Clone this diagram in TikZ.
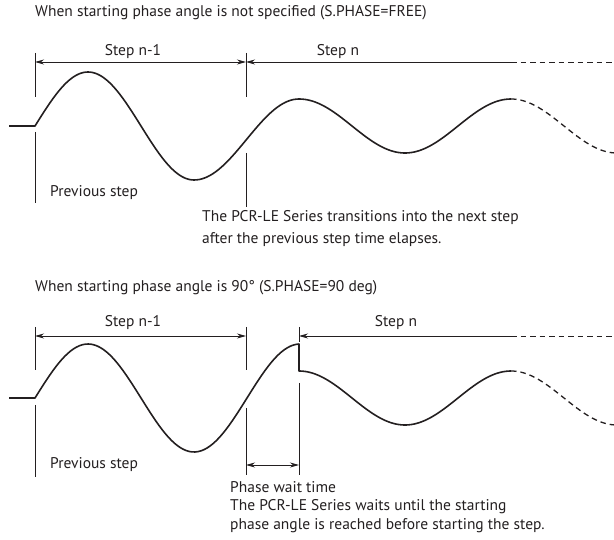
\documentclass[tikz,border=0pt]{standalone}
\usepackage{fontspec}
\setmainfont{PT Sans}
\usetikzlibrary{arrows.meta}
\definecolor{ink}{HTML}{231F20}

\begin{document}
\begin{tikzpicture}[
 x=1pt,y=-1pt,
 every node/.style={font=\fontsize{15.5}{19}\selectfont,text=ink,inner sep=0pt},
 wlabel/.style={anchor=west},
 wnote/.style={anchor=north west,align=left},
 wtick/.style={draw=ink,line width=0.8pt},
 wdim/.style={wtick,{Stealth[length=9pt,width=5pt]}-{Stealth[length=9pt,width=5pt]}},
 wleft/.style={wtick,{Stealth[length=9pt,width=5pt]}-},
 wdimdash/.style={wtick,dash pattern=on 5.5pt off 4pt},
 wwave/.style={draw=ink,line width=1.6pt,line join=round},
 wwavedash/.style={draw=ink,line width=1.3pt,dash pattern=on 5.5pt off 4pt}]
\useasboundingbox (0,0) rectangle (614,540);
% not specified
\node[wlabel] (title1) at (35,13) {When starting phase angle is not specified (S.PHASE=FREE)};
\coordinate (a1) at (35,62);
\coordinate (a2) at (246,62);
\coordinate (a3) at (511,62);
\coordinate (a4) at (614,62);
\draw[wtick] (35,53) -- (35,97) (246,53) -- (246,97);
\draw[wtick] (35,132) -- (35,203) (246,153) -- (246,207);
\draw[wdim] (a1) -- (a2);
\draw[wleft] (a2) -- (a3);
\draw[wdimdash] (a3) -- (a4);
\node (prev1) at (133,52) {Step n-1};
\node (next1) at (338,52) {Step n};
\draw[wwave] (9,126) -- (35,126)
 -- plot[domain=35:194,samples=70] (\x,{126-54*sin((\x-35)/212*360)})
 -- plot[domain=194:299,samples=40] (\x,{139.5+40.5*cos((\x-194)/105*180)})
 -- plot[domain=299:511,samples=80] (\x,{126-27*cos((\x-299)/212*360)});
\draw[wwavedash] plot[domain=511:614,samples=40] (\x,{126-27*cos((\x-299)/212*360)});
\node[wlabel] (old1) at (50,193) {Previous step};
\node[wnote,font=\fontsize{15.5}{22}\selectfont] (note1) at (202,210)
 {The PCR-LE Series transitions into the next step\\after the previous step time elapses.};
% 90 deg
\node[wlabel] (title2) at (35,288) {When starting phase angle is 90\textdegree{} (S.PHASE=90 deg)};
\coordinate (b1) at (35,336);
\coordinate (b2) at (246,336);
\coordinate (b3) at (299,336);
\coordinate (b4) at (511,336);
\coordinate (b5) at (614,336);
\coordinate (c1) at (246,465);
\coordinate (c2) at (299,465);
\draw[wtick] (35,327) -- (35,370) (246,327) -- (246,370) (299,327) -- (299,342);
\draw[wtick] (35,405) -- (35,477) (246,408) -- (246,475) (299,383) -- (299,475);
\draw[wdim] (b1) -- (b2);
\draw[wleft] (b3) -- (b4);
\draw[wdimdash] (b4) -- (b5);
\draw[wdim] (c1) -- (c2);
\node (prev2) at (133,323) {Step n-1};
\node (next2) at (396,323) {Step n};
\draw[wwave] (9,398) -- (35,398)
 -- plot[domain=35:299,samples=90] (\x,{398-54*sin((\x-35)/212*360)})
 -- (299,371)
 -- plot[domain=299:511,samples=80] (\x,{398-27*cos((\x-299)/212*360)});
\draw[wwavedash] plot[domain=511:614,samples=40] (\x,{398-27*cos((\x-299)/212*360)});
\node[wlabel] (old2) at (50,465) {Previous step};
\node[wnote,font=\fontsize{15.5}{18.5}\selectfont] (note2) at (230,481)
 {Phase wait time\\The PCR-LE Series waits until the starting\\phase angle is reached before starting the step.};
\end{tikzpicture}
\end{document}
